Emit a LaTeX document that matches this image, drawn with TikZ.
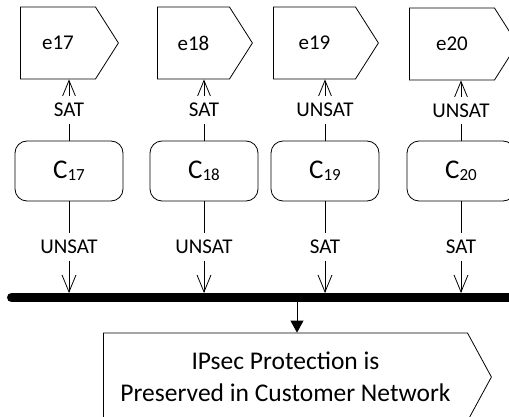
\documentclass[tikz,border=0pt]{standalone}
\usepackage{fontspec}
\setmainfont{Carlito}
\usepackage{tikz}
\usetikzlibrary{positioning,arrows.meta,shapes.symbols}

\newcommand{\cname}[1]{{\fontsize{27}{30}\selectfont C}\raisebox{-2pt}{\fontsize{17}{20}\selectfont #1}}

\tikzset{
  event/.style={draw, signal, signal to=east, signal from=nowhere, signal pointer angle=115,
    minimum height=72, inner sep=0pt, anchor=west, font=\fontsize{21}{24}\selectfont},
  check/.style={draw, rounded corners=12, minimum width=108, minimum height=60, inner sep=0pt},
  verdict/.style={fill=white, inner xsep=2pt, inner ysep=7pt, font=\fontsize{21}{24}\selectfont},
  open/.style={-{Straight Barb[length=17pt,width=14pt]}},
}

\begin{document}
\begin{tikzpicture}[x=1pt, y=-1pt, line width=0.8pt]
				\useasboundingbox (0,0) rectangle (509,417);
				
				\node[event, minimum width=98] (e17) at (20,43) {e17};
				\node[event, minimum width=95] (e18) at (157,43) {e18};
				\node[event, minimum width=105] (e19) at (273,43) {e19};
				\node[event, minimum width=108] (e20) at (409,44) {e20};
				
				\node[check] (C17) at (69,171) {\cname{17}};
				\node[check] (C18) at (204,171) {\cname{18}};
				\node[check] (C19) at (325,171) {\cname{19}};
				\node[check] (C20) at (461,171) {\cname{20}};
				
				\coordinate (barL) at (11.5,297.5);
				\coordinate (barR) at (515,297.5);
				\coordinate (bartop) at (0,293);
				\coordinate (tap) at (297,302);
				\draw[line width=9pt, line cap=round] (barL) -- (barR);
				
				\draw[open] (C17.north) -- node[verdict] {SAT} (C17.north |- e17.south);
				\draw[open] (C18.north) -- node[verdict] {SAT} (C18.north |- e18.south);
				\draw[open] (C19.north) -- node[verdict] {UNSAT} (C19.north |- e19.south);
				\draw[open] (C20.north) -- node[verdict] {UNSAT} (C20.north |- e20.south);
				
				\draw[open] (C17.south) -- node[verdict] {UNSAT} (C17.south |- bartop);
				\draw[open] (C18.south) -- node[verdict] {UNSAT} (C18.south |- bartop);
				\draw[open] (C19.south) -- node[verdict] {SAT} (C19.south |- bartop);
				\draw[open] (C20.south) -- node[verdict] {SAT} (C20.south |- bartop);
				
				\node[draw, signal, signal to=east, signal from=nowhere, signal pointer angle=123,
				  minimum width=388, minimum height=88, anchor=west, align=center,
				  font=\fontsize{25.5}{32}\selectfont] (out) at (103,377)
				  {IPsec Protection is\\Preserved in Customer Network};
				\draw[-{Triangle[length=12pt,width=13pt]}] (tap) -- (tap |- out.north);
			\end{tikzpicture}
\end{document}
